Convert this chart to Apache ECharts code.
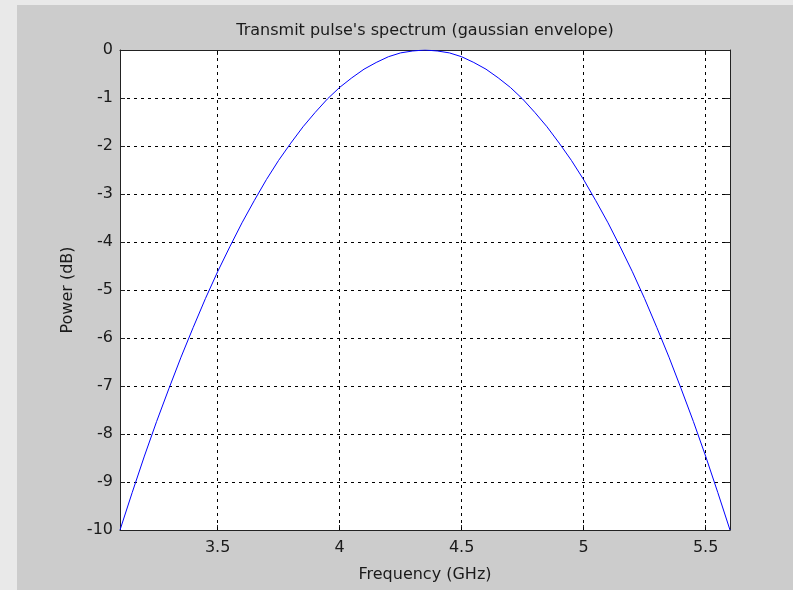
<!DOCTYPE html>
<html>
<head>
<meta charset="utf-8">
<style>
  html, body { margin: 0; padding: 0; background: #e9e9e9; }
  #chart { width: 793px; height: 590px; }
</style>
<script src="https://cdn.jsdelivr.net/npm/echarts@6/dist/echarts.min.js"></script>
</head>
<body>
<div id="chart"></div>
<script>
// Frequency samples (GHz) and transmitted power (dB) of the gaussian-envelope pulse
const frequencyGHz = [
  3.10, 3.15, 3.20, 3.25, 3.30, 3.35, 3.40, 3.45, 3.50, 3.55,
  3.60, 3.65, 3.70, 3.75, 3.80, 3.85, 3.90, 3.95, 4.00, 4.05,
  4.10, 4.15, 4.20, 4.25, 4.30, 4.35, 4.40, 4.45, 4.50, 4.55,
  4.60, 4.65, 4.70, 4.75, 4.80, 4.85, 4.90, 4.95, 5.00, 5.05,
  5.10, 5.15, 5.20, 5.25, 5.30, 5.35, 5.40, 5.45, 5.50, 5.55, 5.60
];
const powerDb = [
  -10.00, -9.22, -8.46, -7.74, -7.06, -6.40, -5.78, -5.18, -4.62, -4.10,
  -3.60, -3.14, -2.70, -2.30, -1.94, -1.60, -1.30, -1.02, -0.78, -0.58,
  -0.40, -0.26, -0.14, -0.06, -0.02, 0.00, -0.02, -0.06, -0.14, -0.26,
  -0.40, -0.58, -0.78, -1.02, -1.30, -1.60, -1.94, -2.30, -2.70, -3.14,
  -3.60, -4.10, -4.62, -5.18, -5.78, -6.40, -7.06, -7.74, -8.46, -9.22, -10.00
];
const xTicks = [3.5, 4, 4.5, 5, 5.5];

const FONT = '"DejaVu Sans", Verdana, sans-serif';
const TEXT = '#1a1a1a';
const FS = 16;
const chart = echarts.init(document.getElementById('chart'), null, { renderer: 'canvas' });

const gridLine = { show: true, lineStyle: { color: '#000', type: [3, 4], width: 1 } };
const frame = { show: true, onZero: false, lineStyle: { color: '#222', width: 1 } };
const inTick = { show: true, inside: true, length: 5, lineStyle: { color: '#222' } };

chart.setOption({
  backgroundColor: '#e9e9e9',
  animation: false,
  graphic: [{
    // grey figure panel
    type: 'rect', left: 17, top: 5, z: -10,
    shape: { width: 776, height: 585 },
    style: { fill: '#cccccc' }
  }, {
    // title, centred over the axes box
    type: 'text', x: 425, y: 31, z: 10,
    style: {
      text: "Transmit pulse's spectrum (gaussian envelope)",
      fontFamily: FONT, fontSize: FS, fill: TEXT,
      align: 'center', verticalAlign: 'middle'
    }
  }],
  grid: { left: 120, right: 63, top: 50, bottom: 60, show: true, backgroundColor: '#fff', borderWidth: 0 },
  xAxis: [{
    type: 'value', min: 3.1, max: 5.6, position: 'bottom',
    name: 'Frequency (GHz)', nameLocation: 'middle', nameGap: 37,
    nameTextStyle: { fontFamily: FONT, fontSize: FS, color: TEXT },
    axisLine: frame,
    axisTick: Object.assign({}, inTick, { customValues: xTicks }),
    axisLabel: { customValues: xTicks, fontFamily: FONT, fontSize: FS, color: TEXT, margin: 10,
      formatter: v => String(v) },
    splitLine: { show: false }
  }, {
    type: 'value', min: 3.1, max: 5.6, position: 'top',
    axisLine: frame,
    axisTick: Object.assign({}, inTick, { customValues: xTicks }),
    axisLabel: { show: false, customValues: xTicks },
    splitLine: { show: false }
  }],
  yAxis: [{
    type: 'value', min: -10, max: 0, interval: 1, position: 'left',
    name: 'Power (dB)', nameLocation: 'middle', nameGap: 41, nameRotate: 90,
    nameTextStyle: { fontFamily: FONT, fontSize: FS, color: TEXT },
    axisLine: frame,
    axisTick: inTick,
    axisLabel: { fontFamily: FONT, fontSize: FS, color: TEXT, margin: 7 },
    splitLine: gridLine
  }, {
    type: 'value', min: -10, max: 0, interval: 1, position: 'right',
    axisLine: frame,
    axisTick: inTick,
    axisLabel: { show: false },
    splitLine: { show: false }
  }],
  series: [{
    type: 'line',
    data: frequencyGHz.map((f, i) => [f, powerDb[i]]),
    showSymbol: false,
    smooth: false,
    lineStyle: { color: '#0000ff', width: 1 },
    markLine: {
      silent: true, symbol: 'none', label: { show: false },
      lineStyle: { color: '#000', type: [3, 4], width: 1 },
      data: xTicks.map(v => ({ xAxis: v }))
    },
    z: 5
  }]
});
</script>
</body>
</html>
